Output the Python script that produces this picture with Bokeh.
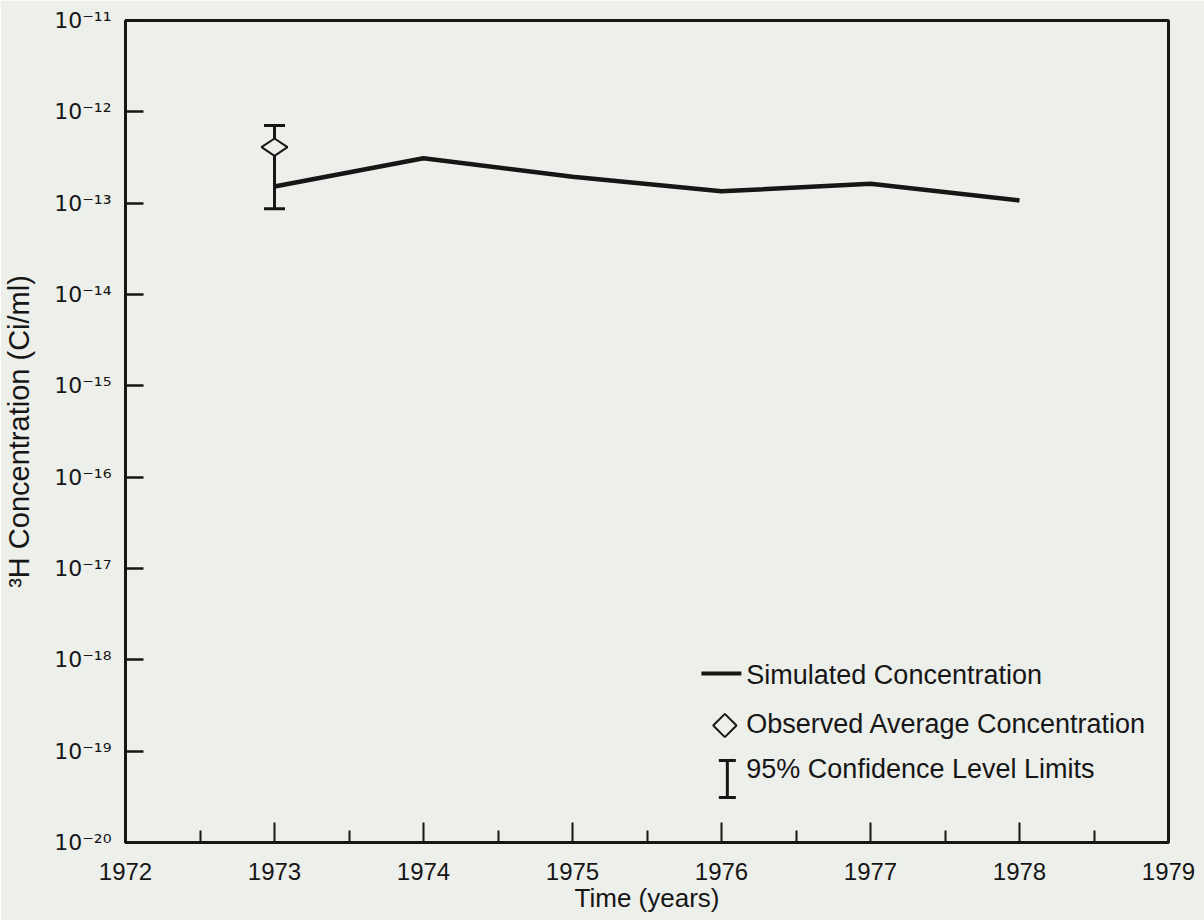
import math
from bokeh.plotting import figure
from bokeh.models import (Range1d, FixedTicker, Label, Whisker, TeeHead,
                          ColumnDataSource, CustomJSTickFormatter)
from bokeh.embed import file_html
from bokeh.resources import INLINE

# ---------------- data ----------------
years = [1973, 1974, 1975, 1976, 1977, 1978]
simulated = [1.52e-13, 3.1e-13, 1.95e-13, 1.35e-13, 1.63e-13, 1.07e-13]

observed_year = [1973]
observed_avg = [4.1e-13]
ci_lower = [8.7e-14]
ci_upper = [7.1e-13]

x_tick_years = [1972, 1973, 1974, 1975, 1976, 1977, 1978, 1979]
x_minor_years = [1972.5, 1973.5, 1974.5, 1975.5, 1976.5, 1977.5, 1978.5]
y_tick_exponents = [-20, -19, -18, -17, -16, -15, -14, -13, -12, -11]

legend_labels = ["Simulated Concentration",
                 "Observed Average Concentration",
                 "95% Confidence Level Limits"]
x_title = "Time (years)"
y_title = "\u00b3H Concentration (Ci/ml)"

# ---------------- styling / layout ----------------
BG = "#edefeb"
INK = "#161616"
FONT = "Liberation Sans"

W, H = 1204, 920
LEFT, RIGHT, TOP, BOTTOM = 123, 36, 20, 78
FRAME_W = W - LEFT - RIGHT
FRAME_H = H - TOP - BOTTOM
X0, X1 = x_tick_years[0], x_tick_years[-1]
E0, E1 = y_tick_exponents[0], y_tick_exponents[-1]


def px_x(px):
    """page pixel column -> data x (used only to lay out the legend)"""
    return X0 + (px - LEFT) / FRAME_W * (X1 - X0)


def px_y(py):
    """page pixel row -> data y (used only to lay out the legend)"""
    return 10 ** (E1 - (py - TOP) / FRAME_H * (E1 - E0))


p = figure(width=W, height=H,
           x_range=Range1d(X0, X1), y_range=Range1d(10.0 ** E0, 10.0 ** E1),
           y_axis_type="log", output_backend="svg", toolbar_location=None,
           min_border_left=LEFT, min_border_right=RIGHT,
           min_border_top=TOP, min_border_bottom=BOTTOM,
           background_fill_color=BG, border_fill_color=BG,
           outline_line_color=INK, outline_line_width=3)
p.grid.visible = False

# x axis
xa = p.xaxis[0]
xa.ticker = FixedTicker(ticks=x_tick_years, minor_ticks=x_minor_years)
xa.major_tick_in = 20
xa.major_tick_out = 0
xa.minor_tick_in = 12
xa.minor_tick_out = 0
xa.axis_line_width = 3
xa.axis_line_color = INK
xa.major_tick_line_width = 2
xa.major_tick_line_color = INK
xa.minor_tick_line_width = 2
xa.minor_tick_line_color = INK
xa.major_label_text_font = FONT
xa.major_label_text_font_size = "24px"
xa.major_label_text_color = INK
xa.major_label_standoff = 20
xa.axis_label = x_title
xa.axis_label_text_font = FONT
xa.axis_label_text_font_size = "26px"
xa.axis_label_text_font_style = "normal"
xa.axis_label_text_color = INK
xa.axis_label_standoff = 0

# y axis: labels 10 with superscript exponent
ya = p.yaxis[0]
ya.ticker = FixedTicker(ticks=[10.0 ** e for e in y_tick_exponents])
ya.major_tick_in = 18
ya.major_tick_out = 0
ya.minor_tick_line_color = None
ya.axis_line_width = 3
ya.axis_line_color = INK
ya.major_tick_line_width = 2.5
ya.major_tick_line_color = INK
ya.formatter = CustomJSTickFormatter(code="""
const sup = {"0": "\\u2070", "1": "\\u00b9", "2": "\\u00b2", "3": "\\u00b3",
             "4": "\\u2074", "5": "\\u2075", "6": "\\u2076", "7": "\\u2077",
             "8": "\\u2078", "9": "\\u2079", "-": "\\u207b"};
const e = Math.round(Math.log10(tick));
return "10" + String(e).split("").map((c) => sup[c]).join("");
""")
ya.major_label_text_font = "DejaVu Sans"
ya.major_label_text_font_size = "22px"
ya.major_label_text_color = INK
ya.major_label_standoff = 14
ya.axis_label = y_title
ya.axis_label_text_font = FONT
ya.axis_label_text_font_size = "29px"
ya.axis_label_text_font_style = "normal"
ya.axis_label_text_color = INK
ya.axis_label_standoff = 16

# ---------------- data marks ----------------
ci_src = ColumnDataSource(dict(x=observed_year, lower=ci_lower, upper=ci_upper))
p.add_layout(Whisker(source=ci_src, base="x", lower="lower", upper="upper",
                     dimension="height", line_width=3, line_color=INK,
                     upper_head=TeeHead(size=21, line_width=3, line_color=INK),
                     lower_head=TeeHead(size=21, line_width=3, line_color=INK),
                     level="underlay"))
p.line(years, simulated, line_width=4.5, line_color=INK, line_join="round")
p.scatter(observed_year, observed_avg, marker="diamond", angle=math.pi / 2,
          size=26, fill_color=BG, line_color=INK, line_width=2)

# ---------------- legend (drawn by hand, as in the original) ----------------
p.line([px_x(700), px_x(740)], [px_y(673), px_y(673)], line_width=4, line_color=INK)
p.scatter([px_x(723.5)], [px_y(725)], marker="square", angle=math.pi / 4,
          size=16.5, fill_color=BG, line_color=INK, line_width=2)
leg_src = ColumnDataSource(dict(x=[px_x(726)], lower=[px_y(797)], upper=[px_y(760)]))
p.add_layout(Whisker(source=leg_src, base="x", lower="lower", upper="upper",
                     dimension="height", line_width=3, line_color=INK,
                     upper_head=TeeHead(size=17, line_width=3, line_color=INK),
                     lower_head=TeeHead(size=17, line_width=3, line_color=INK)))
for label, py in zip(legend_labels, [674, 723, 768]):
    p.add_layout(Label(x=px_x(745), y=px_y(py), text=label,
                       text_align="left", text_baseline="middle",
                       text_font=FONT, text_font_size="27px", text_color=INK))

open("out.html", "w").write(file_html(p, INLINE))
